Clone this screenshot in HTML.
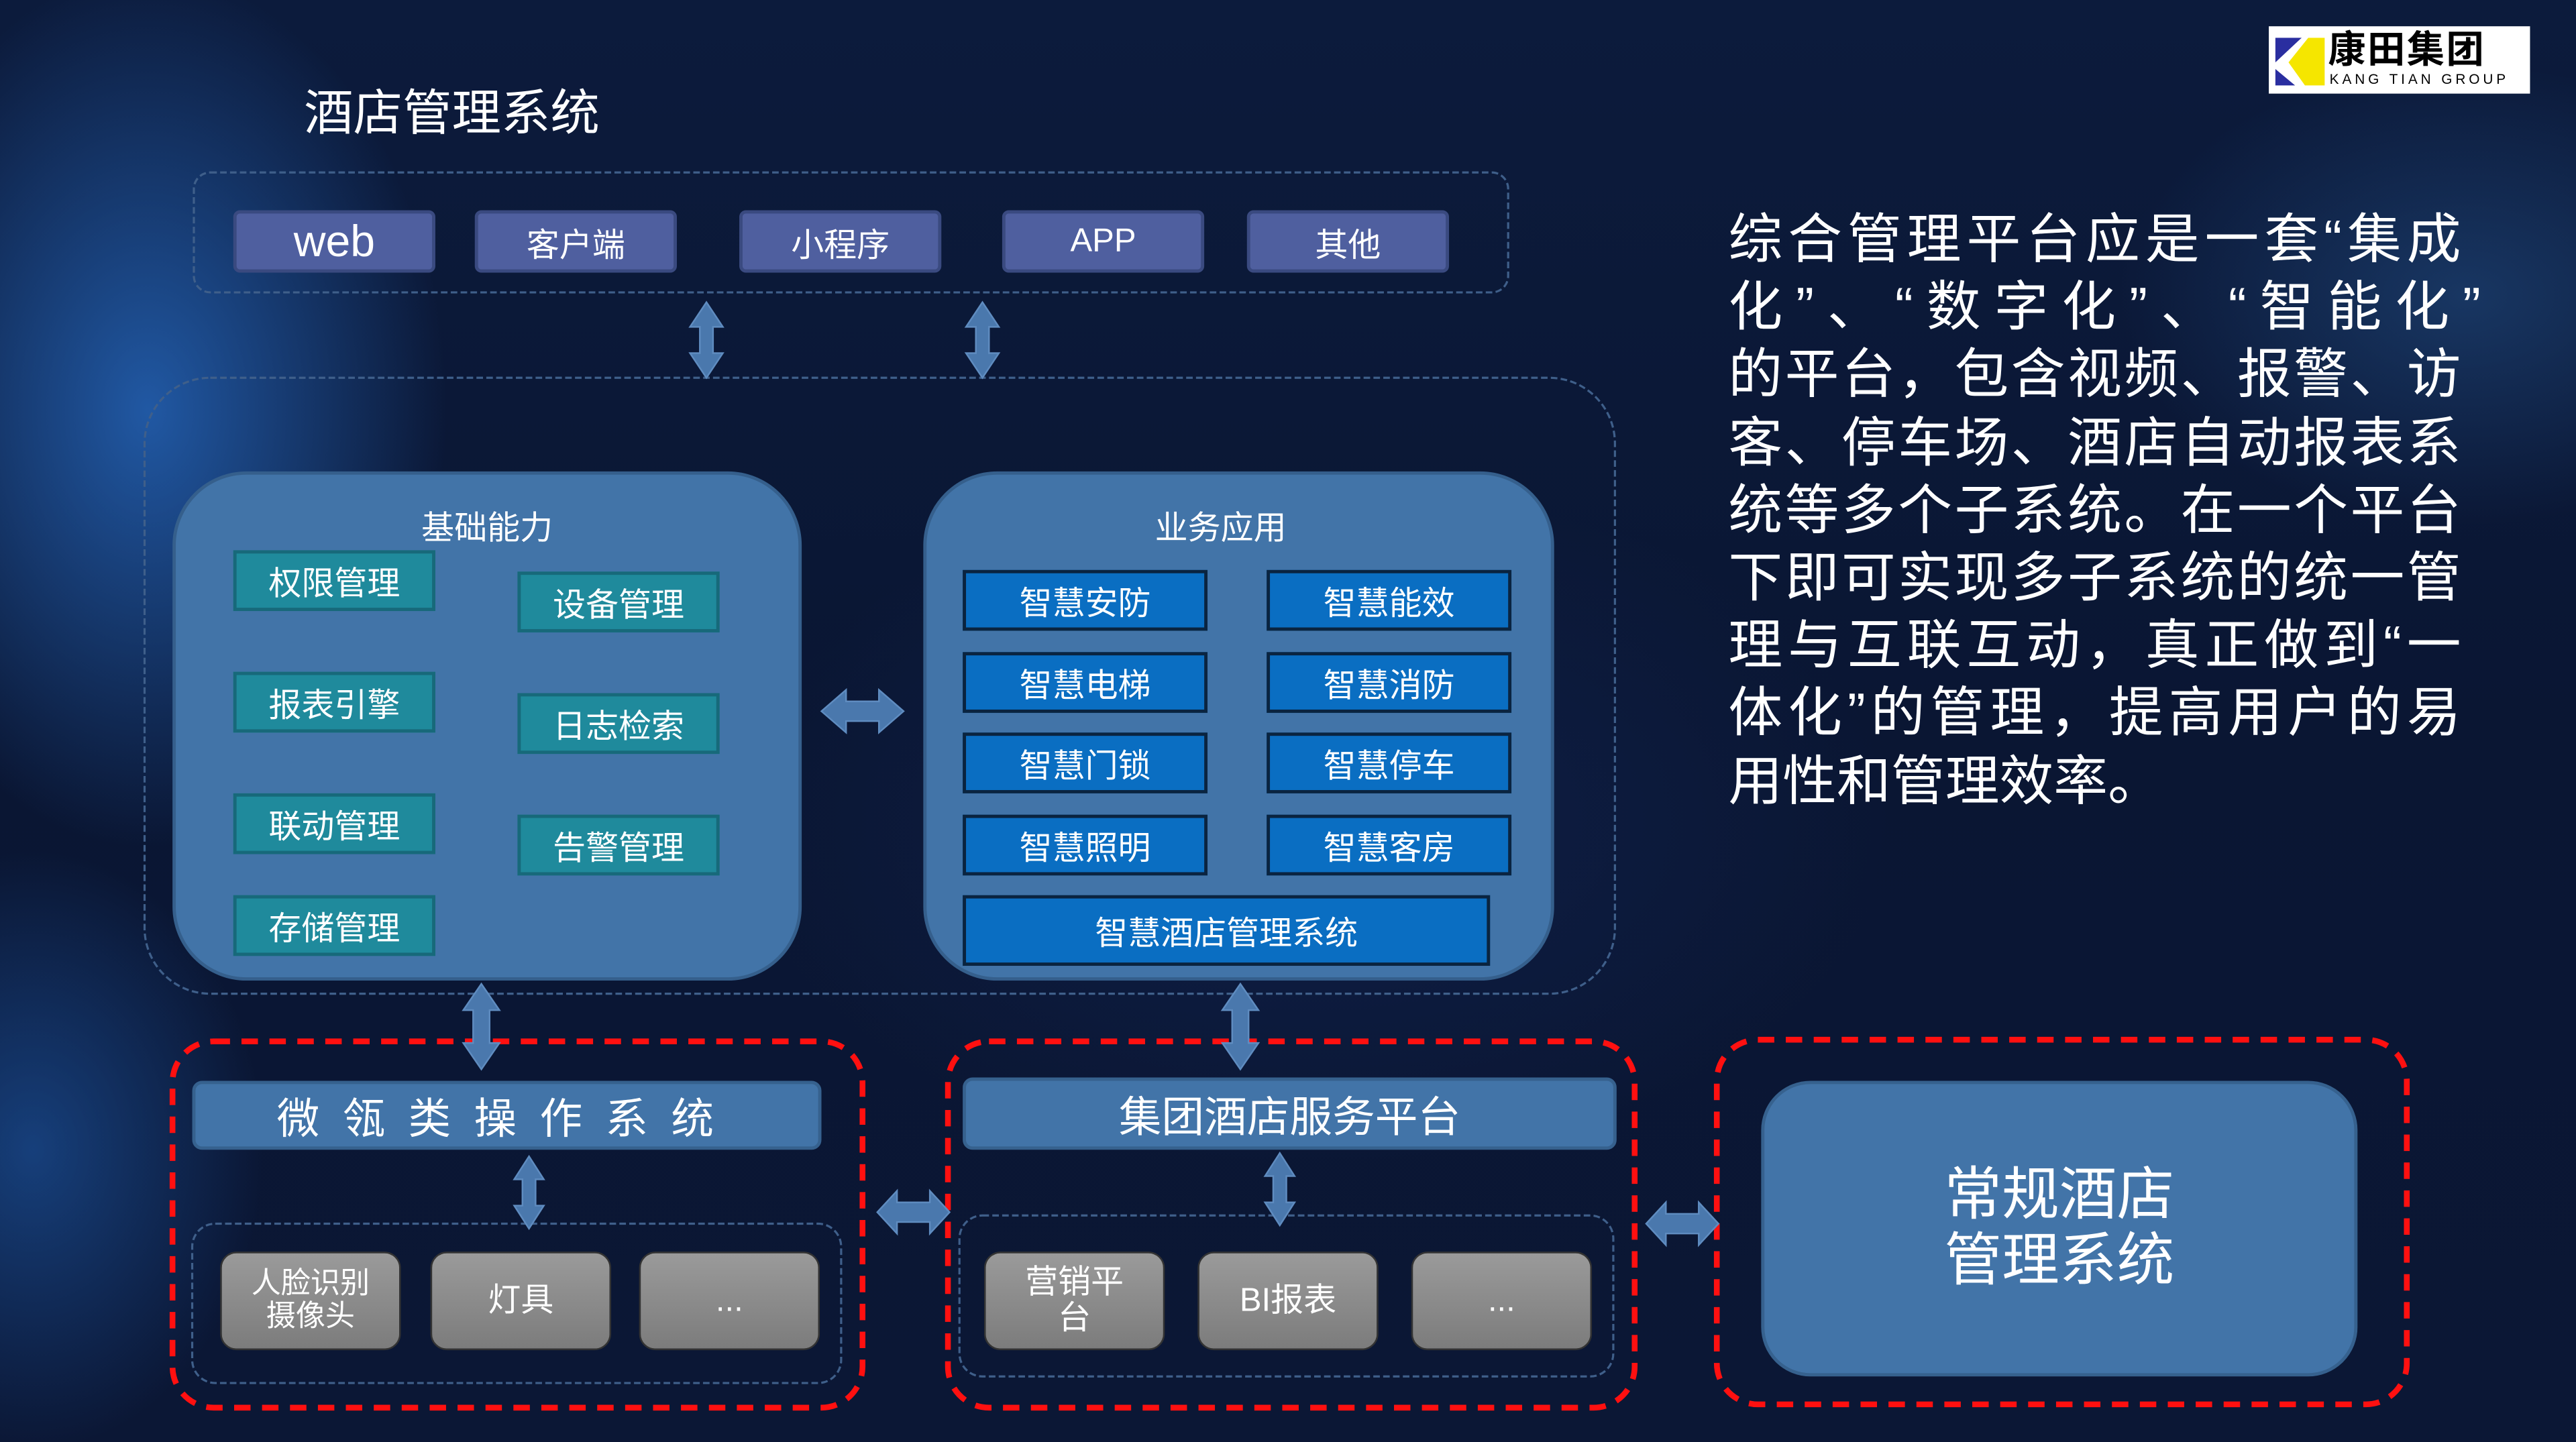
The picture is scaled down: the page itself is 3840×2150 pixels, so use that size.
<!DOCTYPE html>
<html><head><meta charset="utf-8"><style>
html,body{margin:0;padding:0;background:#0a1530;overflow:hidden}
#wrap{width:3840px;height:2150px;overflow:hidden;position:relative}
#s{position:absolute;left:0;top:0;width:1568px;height:878px;transform:scale(2.449);transform-origin:0 0;
font-family:"Liberation Sans","Noto Sans CJK SC",sans-serif;color:#fff;
background:
radial-gradient(ellipse 260px 380px at 90px 250px,rgba(40,110,200,.75),transparent 70%),
radial-gradient(ellipse 200px 260px at 20px 700px,rgba(30,90,170,.6),transparent 70%),
radial-gradient(ellipse 300px 200px at 1500px 180px,rgba(40,90,150,.45),transparent 70%),
radial-gradient(ellipse 500px 300px at 800px 500px,rgba(20,40,90,.5),transparent 70%),
linear-gradient(180deg,#0c1b3c 0%,#0a1633 50%,#0b1735 100%);}
.a{position:absolute;box-sizing:border-box;display:flex;align-items:center;justify-content:center;text-align:center}
.top{background:#4f5f9f;border:2px solid #3a4a80;border-radius:4px;font-size:20px;top:128px;height:38px;width:123px}
.big{background:#4274a8;border:2px solid #355f8c;border-radius:45px}
.teal{background:#1f8a9c;border:2px solid #17697a;font-size:20px;width:123px;height:37px}
.blu{background:#0a6ec2;border:2px solid #0a2440;font-size:20px;width:149px;height:37px}
.bar{background:#4274a8;border:2px solid #36618e;border-radius:6px;font-size:26px}
.gray{background:linear-gradient(#9a9a9a,#7c7c7c);border:1px solid #333;border-radius:10px;font-size:20px;width:110px;height:60px;top:762px;line-height:1.1}
#p{position:absolute;left:1052px;top:125px;width:446px;font-size:33px;line-height:41.2px}
#p div{text-align:justify;text-align-last:justify;white-space:nowrap;height:41.2px}
#p div.l{text-align-last:left}
</style></head><body><div id="wrap"><div id="s">
<svg width="1568" height="878" style="position:absolute;left:0;top:0">
<g fill="none" stroke="#3f5f8a" stroke-width="1.3" stroke-dasharray="4 2">
<rect x="118" y="105" width="800" height="73" rx="10"/>
<rect x="88" y="230" width="895" height="375" rx="40"/>
<rect x="117" y="745" width="395" height="97" rx="14"/>
<rect x="584" y="740" width="398" height="98" rx="14"/>
</g>
<g fill="none" stroke="#ff1010" stroke-width="3.5" stroke-dasharray="10 7">
<rect x="105" y="634" width="420" height="223" rx="25"/>
<rect x="577" y="634" width="418" height="223" rx="25"/>
<rect x="1045" y="633" width="420" height="222" rx="25"/>
</g>
<g fill="#4a78ad" stroke="#5f8cc0" stroke-width="1">
<path id="va" d="M0,-23 L10,-8 L4,-8 L4,8 L10,8 L0,23 L-10,8 L-4,8 L-4,-8 L-10,-8Z" transform="translate(430,207)"/>
<use href="#va" transform="translate(168,0)"/>
<path d="M0,-26 L11,-10 L5,-10 L5,10 L11,10 L0,26 L-11,10 L-5,10 L-5,-10 L-11,-10Z" transform="translate(293,625)"/>
<path d="M0,-26 L11,-10 L5,-10 L5,10 L11,10 L0,26 L-11,10 L-5,10 L-5,-10 L-11,-10Z" transform="translate(755,625)"/>
<path d="M0,-22 L9,-8 L4,-8 L4,8 L9,8 L0,22 L-9,8 L-4,8 L-4,-8 L-9,-8Z" transform="translate(322,726)"/>
<path d="M0,-22 L9,-8 L4,-8 L4,8 L9,8 L0,22 L-9,8 L-4,8 L-4,-8 L-9,-8Z" transform="translate(779,724)"/>
<path d="M-25,0 L-10,-13 L-10,-6 L10,-6 L10,-13 L25,0 L10,13 L10,6 L-10,6 L-10,13Z" transform="translate(525,433)"/>
<path d="M-22,0 L-10,-13 L-10,-6 L10,-6 L10,-13 L22,0 L10,13 L10,6 L-10,6 L-10,13Z" transform="translate(556,738)"/>
<path d="M-22,0 L-10,-13 L-10,-6 L10,-6 L10,-13 L22,0 L10,13 L10,6 L-10,6 L-10,13Z" transform="translate(1024,745)"/>
</g>
</svg>
<div class="a" style="left:185px;top:46px;font-size:30px;height:40px">酒店管理系统</div>
<div class="a top" style="left:142px;font-size:27px">web</div>
<div class="a top" style="left:289px">客户端</div>
<div class="a top" style="left:450px">小程序</div>
<div class="a top" style="left:610px">APP</div>
<div class="a top" style="left:759px">其他</div>

<div class="a big" style="left:105px;top:287px;width:383px;height:310px"></div>
<div class="a" style="left:105px;top:305px;width:383px;height:28px;font-size:20px">基础能力</div>
<div class="a teal" style="left:142px;top:335px">权限管理</div>
<div class="a teal" style="left:315px;top:348px">设备管理</div>
<div class="a teal" style="left:142px;top:409px">报表引擎</div>
<div class="a teal" style="left:315px;top:422px">日志检索</div>
<div class="a teal" style="left:142px;top:483px">联动管理</div>
<div class="a teal" style="left:315px;top:496px">告警管理</div>
<div class="a teal" style="left:142px;top:545px">存储管理</div>

<div class="a big" style="left:562px;top:287px;width:384px;height:310px"></div>
<div class="a" style="left:562px;top:305px;width:362px;height:28px;font-size:20px">业务应用</div>
<div class="a blu" style="left:586px;top:347px">智慧安防</div>
<div class="a blu" style="left:771px;top:347px">智慧能效</div>
<div class="a blu" style="left:586px;top:397px">智慧电梯</div>
<div class="a blu" style="left:771px;top:397px">智慧消防</div>
<div class="a blu" style="left:586px;top:446px">智慧门锁</div>
<div class="a blu" style="left:771px;top:446px">智慧停车</div>
<div class="a blu" style="left:586px;top:496px">智慧照明</div>
<div class="a blu" style="left:771px;top:496px">智慧客房</div>
<div class="a blu" style="left:586px;top:545px;width:321px;height:43px">智慧酒店管理系统</div>

<div class="a bar" style="left:117px;top:658px;width:383px;height:42px;letter-spacing:14px">微瓴类操作系统</div>
<div class="a bar" style="left:586px;top:656px;width:398px;height:44px">集团酒店服务平台</div>
<div class="a gray" style="left:134px;font-size:18px">人脸识别<br>摄像头</div>
<div class="a gray" style="left:262px">灯具</div>
<div class="a gray" style="left:389px">...</div>
<div class="a gray" style="left:599px">营销平<br>台</div>
<div class="a gray" style="left:729px">BI报表</div>
<div class="a gray" style="left:859px">...</div>

<div class="a" style="left:1072px;top:658px;width:363px;height:180px;background:#4274a8;border:2px solid #36618e;border-radius:30px;font-size:35px;line-height:1.15">常规酒店<br>管理系统</div>

<div id="p">
<div>综合管理平台应是一套“集成</div>
<div style="width:458px">化”、“数字化”、“智能化”</div>
<div>的平台，包含视频、报警、访</div>
<div>客、停车场、酒店自动报表系</div>
<div>统等多个子系统。在一个平台</div>
<div>下即可实现多子系统的统一管</div>
<div>理与互联互动，真正做到“一</div>
<div>体化”的管理，提高用户的易</div>
<div class="l">用性和管理效率。</div>
</div>

<div style="position:absolute;left:1381px;top:16px;width:159px;height:41px;background:#fff">
<svg width="40" height="41" style="position:absolute;left:0;top:0"><polygon points="4,7 20,7 4,22" fill="#2a2ea0"/><polygon points="4,26 16,36 4,36" fill="#2a2ea0"/><polygon points="24,7 34,7 34,36 22,36 12,22" fill="#f5e600"/></svg>
<div style="position:absolute;left:36px;top:1px;font-size:23px;font-weight:bold;color:#000;letter-spacing:1px;line-height:26px">康田集团</div>
<div style="position:absolute;left:37px;top:27px;font-size:8.5px;color:#000;letter-spacing:2px;line-height:10px">KANG TIAN GROUP</div>
</div>
</div></div></body></html>
